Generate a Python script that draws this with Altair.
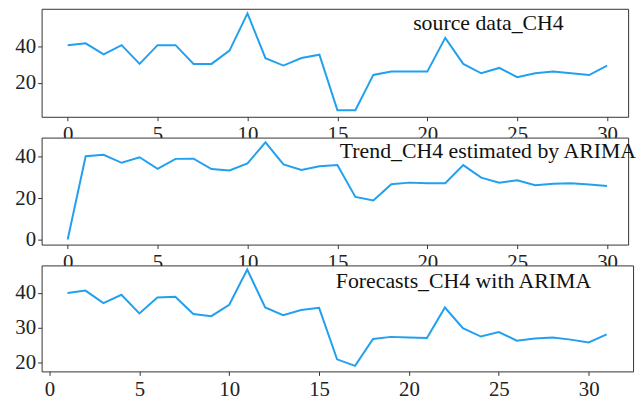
import altair as alt
import pandas as pd

x_src = list(range(0, 31))
source = [40.5, 41.5, 35.5, 40.5, 30.3, 40.5, 40.5, 30.3, 30.3, 37.5, 57.8, 33.4, 29.4, 33.5, 35.3,
          5.1, 5.1, 24.3, 26.1, 26.1, 26.1, 44.5, 30.3, 25.2, 28.1, 23.1, 25.2, 26.1, 25.2, 24.2, 29.4]
x_trend = list(range(0, 31))
trend = [0.0, 40.3, 41.0, 37.1, 39.8, 34.2, 39.0, 39.1, 34.1, 33.4, 36.8, 47.0, 36.3, 33.6, 35.4,
         36.0, 20.6, 18.9, 26.7, 27.5, 27.2, 27.2, 36.0, 29.9, 27.5, 28.6, 26.2, 26.9, 27.2, 26.6, 25.9]
x_fc = list(range(1, 32))
forecast = [40.0, 40.7, 37.1, 39.5, 34.1, 38.7, 38.9, 33.9, 33.3, 36.6, 46.8, 35.8, 33.6, 35.1, 35.7,
            20.8, 18.9, 26.7, 27.3, 27.1, 27.0, 35.8, 29.8, 27.4, 28.7, 26.2, 26.8, 27.1, 26.5, 25.7, 28.0]

titles = ["source data_CH4", "Trend_CH4 estimated by ARIMA", "Forecasts_CH4 with ARIMA"]
x_ticks = [0, 5, 10, 15, 20, 25, 30]

FONT = "Liberation Serif"
LINE = "#22a0f0"


def panel(xs, ys, title, xdom, ydom, yticks, w, h, tx, ty):
    df = pd.DataFrame({"x": xs, "y": ys})
    line = alt.Chart(df).mark_line(color=LINE, strokeWidth=2).encode(
        x=alt.X("x:Q", scale=alt.Scale(domain=xdom, nice=False, zero=False),
                axis=alt.Axis(values=x_ticks, title=None, grid=False, domain=False,
                              tickSize=4, tickColor="#333", labelPadding=3,
                              labelFont=FONT, labelFontSize=21, labelColor="#222",
                              labelFlush=False)),
        y=alt.Y("y:Q", scale=alt.Scale(domain=ydom, nice=False, zero=False),
                axis=alt.Axis(values=yticks, title=None, grid=False, domain=False,
                              tickSize=4, tickColor="#333", labelPadding=2,
                              minExtent=28, maxExtent=28,
                              labelFont=FONT, labelFontSize=21, labelColor="#222")),
    )
    txt = alt.Chart(df.head(1)).mark_text(
        font=FONT, fontSize=22, align="left", baseline="middle", color="#111"
    ).encode(x=alt.value(tx), y=alt.value(ty), text=alt.value(title))
    return alt.layer(line, txt).properties(width=w, height=h)


p1 = panel(x_src, source, titles[0], [-1.45, 31.17], [1.5, 60.3], [20, 40], 592, 109, 375, 14)
p2 = panel(x_trend, trend, titles[1], [-1.45, 31.17], [-2.5, 49.3], [0, 20, 40], 592, 108, 301, 14)
p3 = panel(x_fc, forecast, titles[2], [-0.44, 32.47], [17.3, 48.0], [20, 30, 40], 597, 107, 297, 16)

chart = alt.vconcat(p1, p2, p3, spacing=21, bounds="flush").properties(
    padding={"left": 13, "top": 6, "right": 3, "bottom": 0},
    background="white",
).configure_view(stroke="#333", strokeWidth=1, fill="white")

chart.save("out.html", embed_options={"renderer": "svg", "actions": False})
